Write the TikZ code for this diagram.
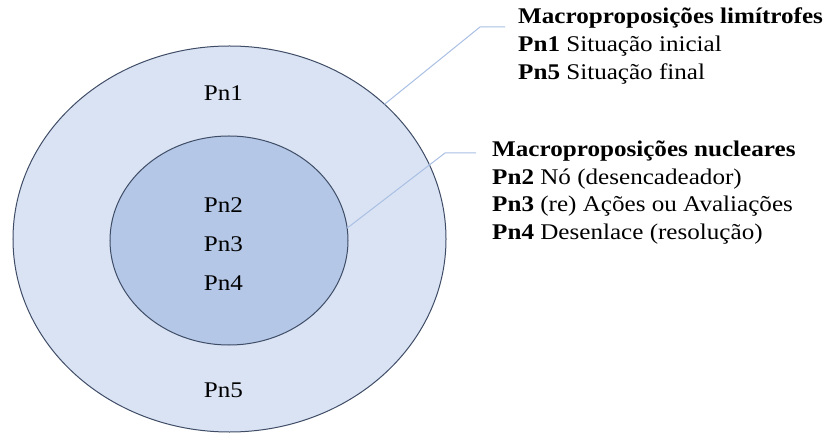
\documentclass[tikz,border=0pt]{standalone}
\usepackage{fontspec}
\usepackage{graphicx}
\setmainfont{Liberation Serif}
\usetikzlibrary{shapes.geometric}
\definecolor{outerfill}{HTML}{DAE3F3}
\definecolor{innerfill}{HTML}{B4C7E7}
\definecolor{rimcol}{HTML}{3E4C66}
\definecolor{leadcol}{HTML}{A9BFE3}
\newcommand{\sx}[1]{\scalebox{1.12}[1]{#1}}
\tikzset{
  ring/.style={ellipse, draw=rimcol, line width=1bp, inner sep=0pt, outer sep=0pt},
  lbl/.style={anchor=base, inner sep=0pt, font=\fontsize{22.5}{28}\selectfont},
  txt/.style={anchor=base west, inner sep=0pt, font=\fontsize{22.5}{28}\selectfont},
  leader/.style={draw=leadcol, line width=1bp}
}
\begin{document}
\begin{tikzpicture}[x=1bp,y=-1bp]
\useasboundingbox (0,0) rectangle (829,434);
\node[ring, fill=outerfill, minimum width=433bp, minimum height=386bp] (outer) at (229.5,239) {};
\node[ring, fill=innerfill, minimum width=238bp, minimum height=209bp] (inner) at (229,240.5) {};
\node[lbl] (pn1) at (223.5,101) {\sx{Pn1}};
\node[lbl] (pn2) at (223.5,213) {\sx{Pn2}};
\node[lbl] (pn3) at (223.5,252) {\sx{Pn3}};
\node[lbl] (pn4) at (223.5,291) {\sx{Pn4}};
\node[lbl] (pn5) at (223.5,397) {\sx{Pn5}};
% right text, top block
\node[txt] (t1) at (518,24) {\sx{\textbf{Macroproposições limítrofes}}};
\node[txt] (t2) at (518,52) {\sx{\textbf{Pn1} Situação inicial}};
\node[txt] (t3) at (518,80) {\sx{\textbf{Pn5} Situação final}};
% right text, bottom block
\node[txt] (u1) at (492,157) {\sx{\textbf{Macroproposições nucleares}}};
\node[txt] (u2) at (492,185) {\sx{\textbf{Pn2} Nó (desencadeador)}};
\node[txt] (u3) at (492,212) {\sx{\textbf{Pn3} (re) Ações ou Avaliações}};
\node[txt] (u4) at (492,240) {\sx{\textbf{Pn4} Desenlace (resolução)}};
% leaders
\coordinate (e1) at (480,27);
\coordinate (f1) at (505,27);
\coordinate (e2) at (445,153);
\coordinate (f2) at (476,153);
\draw[leader] (outer.41.8) -- (e1) -- (f1);
\draw[leader] (inner.6) -- (e2) -- (f2);
\end{tikzpicture}
\end{document}
